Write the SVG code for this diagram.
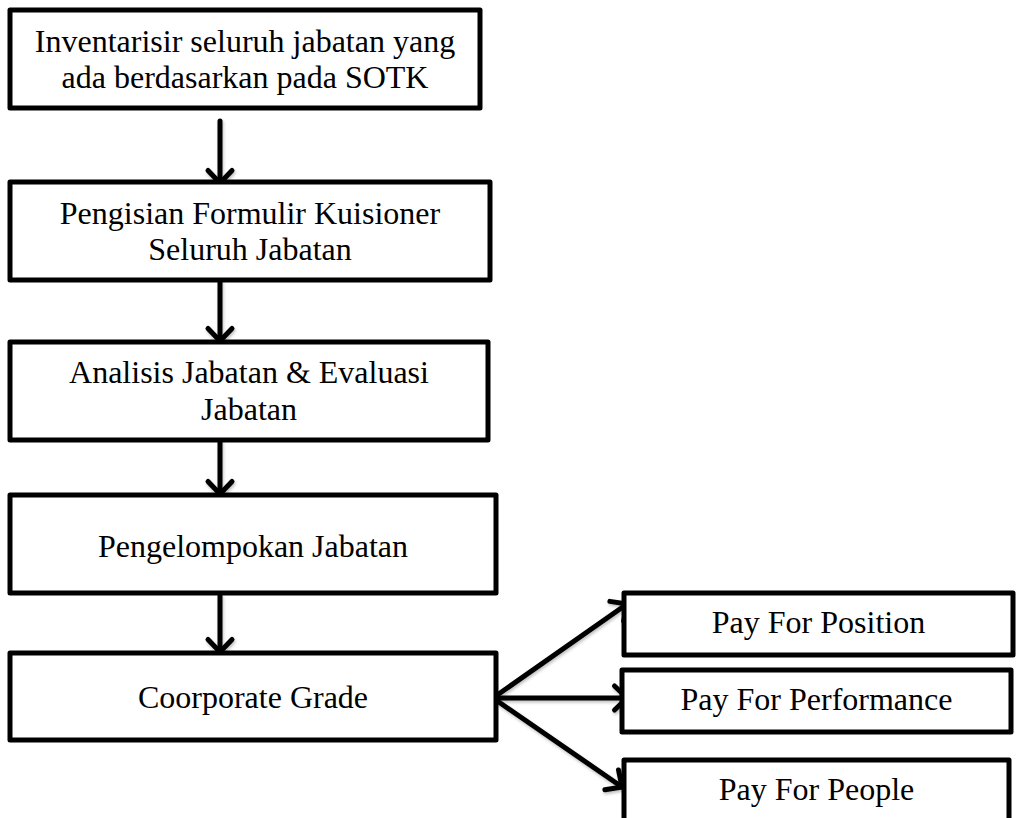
<svg xmlns="http://www.w3.org/2000/svg" width="1018" height="818" viewBox="0 0 1018 818">
  <defs>
    <style>
      .box { fill: #ffffff; stroke: #000000; stroke-width: 5; stroke-linejoin: round; }
      .label { font-family: "Liberation Serif", "Times New Roman", serif; font-size: 32px; fill: #000000; text-anchor: middle; }
      .link { fill: none; stroke: #000000; stroke-width: 5; stroke-linecap: round; }
    </style>
    <marker id="chevron" viewBox="-18 -16 22 32" refX="0" refY="0" markerWidth="22" markerHeight="32" markerUnits="userSpaceOnUse" orient="auto">
      <path d="M -12.5 -12 L 0 0 L -12.5 12" fill="none" stroke="#000000" stroke-width="5" stroke-linecap="round" stroke-linejoin="round"/>
    </marker>
    <filter id="soft" x="-20%" y="-20%" width="140%" height="140%">
      <feDropShadow dx="1" dy="2" stdDeviation="1.5" flood-color="#000000" flood-opacity="0.25"/>
    </filter>
  </defs>

  <rect width="1018" height="818" fill="#ffffff"/>

  <!-- connectors -->
  <g id="connectors" class="link" filter="url(#soft)">
    <line x1="220" y1="121" x2="220" y2="183" marker-end="url(#chevron)"/>
    <line x1="220" y1="282" x2="220" y2="341" marker-end="url(#chevron)"/>
    <line x1="220" y1="442" x2="220" y2="494" marker-end="url(#chevron)"/>
    <line x1="220" y1="596" x2="220" y2="652" marker-end="url(#chevron)"/>
    <line x1="493" y1="698" x2="627" y2="604" marker-end="url(#chevron)"/>
    <line x1="493" y1="698" x2="627" y2="698" marker-end="url(#chevron)"/>
    <line x1="493" y1="698" x2="622" y2="787" marker-end="url(#chevron)"/>
  </g>

  <!-- process steps -->
  <g id="inventarisir">
    <rect class="box" x="10" y="10" width="470" height="98"/>
    <text class="label" x="245" y="52">Inventarisir seluruh jabatan yang</text>
    <text class="label" x="245" y="88">ada berdasarkan pada SOTK</text>
  </g>
  <g id="pengisian">
    <rect class="box" x="10" y="182" width="480" height="98"/>
    <text class="label" x="250" y="224">Pengisian Formulir Kuisioner</text>
    <text class="label" x="250" y="260">Seluruh Jabatan</text>
  </g>
  <g id="analisis">
    <rect class="box" x="10" y="342" width="478" height="98"/>
    <text class="label" x="249" y="383">Analisis Jabatan &amp; Evaluasi</text>
    <text class="label" x="249" y="420">Jabatan</text>
  </g>
  <g id="pengelompokan">
    <rect class="box" x="10" y="495" width="486" height="98"/>
    <text class="label" x="253" y="557">Pengelompokan Jabatan</text>
  </g>
  <g id="grade">
    <rect class="box" x="10" y="653" width="486" height="87"/>
    <text class="label" x="253" y="708">Coorporate Grade</text>
  </g>

  <!-- pay outcomes -->
  <g id="pay-position">
    <rect class="box" x="624" y="593" width="389" height="62"/>
    <text class="label" x="818.5" y="633">Pay For Position</text>
  </g>
  <g id="pay-performance">
    <rect class="box" x="622" y="670" width="389" height="62"/>
    <text class="label" x="816.5" y="710">Pay For Performance</text>
  </g>
  <g id="pay-people">
    <rect class="box" x="624" y="760" width="385" height="80"/>
    <text class="label" x="816.5" y="800">Pay For People</text>
  </g>
</svg>
